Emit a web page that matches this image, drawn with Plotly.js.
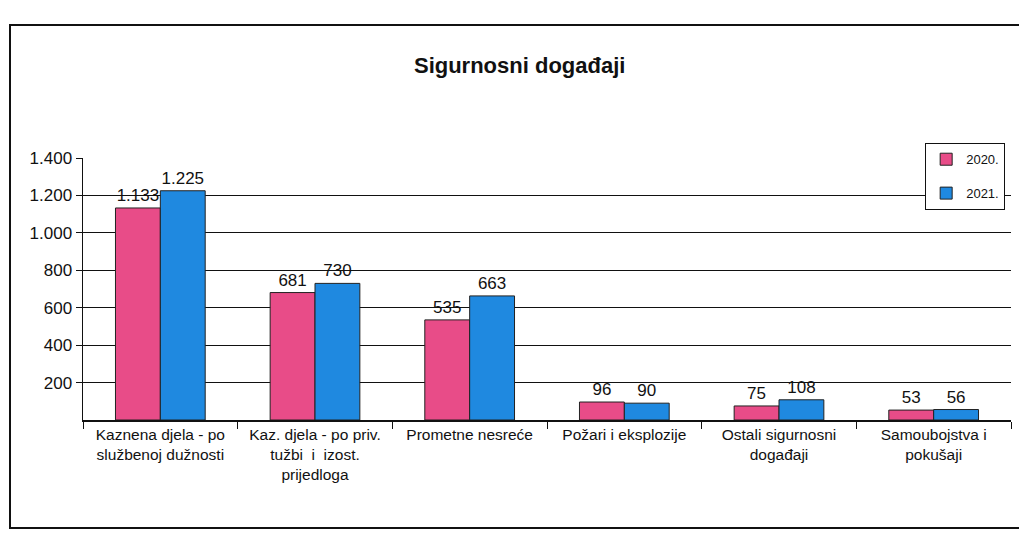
<!DOCTYPE html>
<html>
<head>
<meta charset="utf-8">
<script src="https://cdn.plot.ly/plotly-3.0.1.min.js"></script>
<style>html,body{margin:0;padding:0;background:#fff;}#chart{width:1019px;height:543px;}</style>
</head>
<body>
<div id="chart"></div>
<script>
const categories = [
  "Kaznena djela - po<br>službenoj dužnosti",
  "Kaz. djela - po priv.<br>tužbi  i  izost.<br>prijedloga",
  "Prometne nesreće",
  "Požari i eksplozije",
  "Ostali sigurnosni<br>događaji",
  "Samoubojstva i<br>pokušaji"
];
const values2020 = [1133, 681, 535, 96, 75, 53];
const values2021 = [1225, 730, 663, 90, 108, 56];
const seriesNames = ["2020.", "2021."];
const yTicks = [200, 400, 600, 800, 1000, 1200, 1400];

const font = "Liberation Sans, Arial, sans-serif";

const traces = [
  {
    type: "bar", name: seriesNames[0], x: categories, y: values2020,
    marker: {color: "#E84C88", line: {color: "#222", width: 1}},
    texttemplate: "%{y:,}", textposition: "outside", cliponaxis: false,
    textfont: {family: font, size: 17, color: "#111"},
    legendgroup: "a"
  },
  {
    type: "bar", name: seriesNames[1], x: categories, y: values2021,
    marker: {color: "#1F89E0", line: {color: "#222", width: 1}},
    texttemplate: "%{y:,}", textposition: "outside", cliponaxis: false,
    textfont: {family: font, size: 17, color: "#111"},
    legendgroup: "b"
  }
];

const layout = {
  width: 1019, height: 543,
  margin: {l: 83, r: 8, t: 158, b: 123},
  paper_bgcolor: "#fff", plot_bgcolor: "#fff",
  separators: ",.",
  barmode: "group", bargap: 0.42, bargroupgap: 0,
  font: {family: font, color: "#111"},
  title: {text: "<b>Sigurnosni događaji</b>", font: {family: font, size: 22, color: "#111"},
          x: 0.51, xanchor: "center", y: 1 - 65/543, yref: "container", yanchor: "middle"},
  xaxis: {
    showline: true, linecolor: "#111", linewidth: 1.5,
    ticks: "outside", tickson: "boundaries", ticklen: 7, tickcolor: "#111",
    tickfont: {family: font, size: 15.5, color: "#111"}, tickangle: 0,
    showgrid: false
  },
  yaxis: {
    range: [0, 1400], tickvals: yTicks, tickformat: ",",
    showline: true, linecolor: "#111", linewidth: 1.5,
    ticks: "outside", ticklen: 6, tickcolor: "#111",
    gridcolor: "#111", gridwidth: 1.2, zeroline: false,
    tickfont: {family: font, size: 17, color: "#111"}
  },
  showlegend: true,
  legend: {
    x: 0.9935, xanchor: "right", y: 1.057, yanchor: "top",
    bgcolor: "#fff", bordercolor: "#111", borderwidth: 1.2,
    font: {family: font, size: 13, color: "#111"},
    tracegroupgap: 14, itemwidth: 30
  },
  shapes: [
    {type: "rect", xref: "paper", yref: "paper",
     x0: (10-83)/928, x1: (1035-83)/928, y0: (420-528)/262, y1: (420-25)/262,
     line: {color: "#111", width: 2}, fillcolor: "rgba(0,0,0,0)"}
  ]
};

Plotly.newPlot("chart", traces, layout, {displayModeBar: false, staticPlot: true});
</script>
</body>
</html>
